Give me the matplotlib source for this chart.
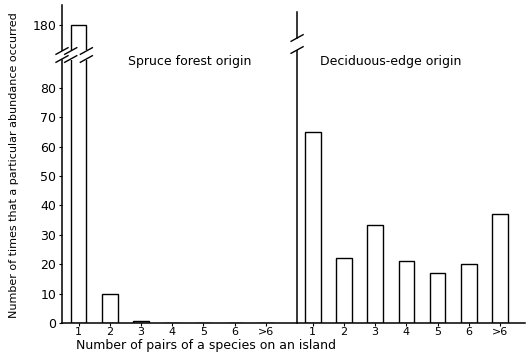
import matplotlib.pyplot as plt
import numpy as np

# data
categories = ["1", "2", "3", "4", "5", "6", ">6"]
spruce = [180, 10, 0.7, 0, 0, 0, 0]
deciduous = [65, 22, 33.5, 21, 17, 20, 37]
yticks_low = [0, 10, 20, 30, 40, 50, 60, 70, 80]
yticks_high = [180]

x_left = np.arange(1, 8)
x_right = np.arange(1, 8) + 7.5
x_axis2 = 8.0
width = 0.5

W, H = 529, 352
fig = plt.figure(figsize=(W / 100, H / 100), dpi=100)
plt.rcParams['font.family'] = 'DejaVu Sans'


def px(x0, y0, x1, y1):
    # pixel box (from top-left) -> figure fraction rect
    return [x0 / W, 1 - y1 / H, (x1 - x0) / W, (y1 - y0) / H]


ax = fig.add_axes(px(62, 60, 525, 323))
ax_top = fig.add_axes(px(62, 5, 525, 50))

xlim = (0.47, 15.3)
for a in (ax, ax_top):
    a.bar(x_left, spruce, width=width, facecolor="white", edgecolor="black", linewidth=1.0)
    a.bar(x_right, deciduous, width=width, facecolor="white", edgecolor="black", linewidth=1.0)
    a.set_xlim(*xlim)
    a.spines["top"].set_visible(False)
    a.spines["right"].set_visible(False)
    a.spines["left"].set_linewidth(1.1)

ax.set_ylim(0, 89.5)
ax_top.set_ylim(171.5, 186.8)
ax_top.spines["bottom"].set_visible(False)
ax_top.set_xticks([])
ax.spines["bottom"].set_linewidth(1.1)

ax.set_yticks(yticks_low)
ax_top.set_yticks(yticks_high)
for a in (ax, ax_top):
    a.tick_params(axis="y", direction="out", length=2, width=0.8, labelsize=9, pad=2)

ax.set_xticks(list(x_left) + list(x_right))
ax.set_xticklabels(categories + categories)
ax.tick_params(axis="x", direction="out", length=2, width=0.8, labelsize=8, pad=1)

# second (deciduous) axis line
ax.plot([x_axis2, x_axis2], [0, 93.0], color="black", lw=1.1, clip_on=False)
ax_top.plot([x_axis2, x_axis2], [175.6, 184.4], color="black", lw=1.1, clip_on=False)


# break marks
def slash(a, xd, ypix, size=6):
    xs = a.transData.transform((xd, 0))[0] / fig.dpi / fig.get_figwidth()
    yf = 1 - ypix / H
    dx, dy = size / W, size * 0.55 / H
    fig.add_artist(plt.Line2D([xs - dx, xs + dx], [yf - dy, yf + dy],
                              color="black", lw=1.0, transform=fig.transFigure))


for xd in (xlim[0], x_left[0] - width / 2, x_left[0] + width / 2):
    slash(ax, xd, 51)
    slash(ax, xd, 59)
slash(ax, x_axis2, 38)
slash(ax, x_axis2, 50)

ax.text(4.57, 89, "Spruce forest origin", ha="center", va="center", fontsize=9, clip_on=False)
ax.text(11.0, 89, "Deciduous-edge origin", ha="center", va="center", fontsize=9, clip_on=False)

fig.text(206 / W, 1 - 345 / H, "Number of pairs of a species on an island",
         ha="center", va="center", fontsize=9)
fig.text(14 / W, 1 - 165 / H, "Number of times that a particular abundance occurred",
         ha="center", va="center", rotation=90, fontsize=8)

fig.savefig("out.png", dpi=100)
